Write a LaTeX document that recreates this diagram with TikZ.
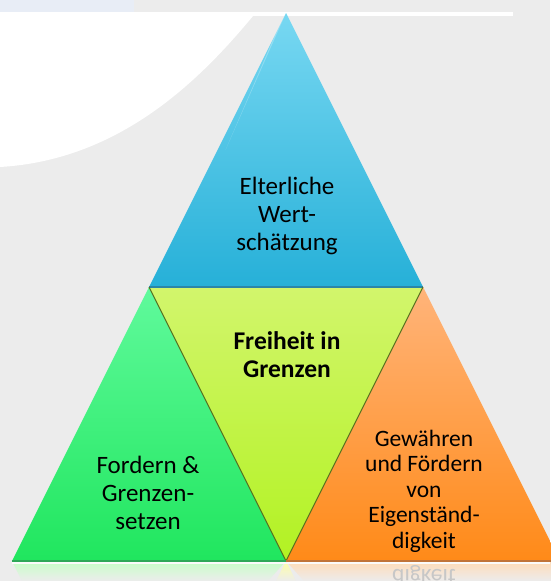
\documentclass[tikz,border=0pt]{standalone}
\usepackage{fontspec}
\setmainfont{Carlito}
\usetikzlibrary{calc}
\definecolor{bg}{HTML}{ECECEC}
\definecolor{stripblue}{HTML}{E8EDF6}
\definecolor{bluetop}{HTML}{78D8F2}
\definecolor{bluebot}{HTML}{26B0D8}
\definecolor{blueedge}{HTML}{2A86A8}
\definecolor{yeltop}{HTML}{D2F56C}
\definecolor{yelbot}{HTML}{B2F222}
\definecolor{yeledge}{HTML}{56701E}
\definecolor{grntop}{HTML}{60FA9C}
\definecolor{grnbot}{HTML}{20E65E}
\definecolor{grnedge}{HTML}{2EA858}
\definecolor{orgtop}{HTML}{FFB47A}
\definecolor{orgbot}{HTML}{FF8A18}
\definecolor{orgedge}{HTML}{C0743A}
\tikzset{
  lbl/.style={align=center, font=\fontsize{25}{28}\selectfont, text=black, inner sep=0pt},
  lblsmall/.style={align=center, font=\fontsize{23.5}{25.5}\selectfont, text=black, inner sep=0pt},
}
\begin{document}
\begin{tikzpicture}[x=1pt,y=-1pt]
\useasboundingbox (0,0) rectangle (550,581);
% background
\fill[bg] (0,0) rectangle (550,581);
\fill[stripblue] (0,0) rectangle (134,12);
\fill[white] (0,12) rectangle (513,16);
\fill[white] (0,16) -- (253,16) .. controls (200,80) and (120,160) .. (0,167) -- cycle;
% corner coordinates
\coordinate (A) at (286,13);
\coordinate (L) at (149,287);
\coordinate (R) at (423,287);
\coordinate (BL) at (12,561);
\coordinate (BM) at (286,561);
\coordinate (BR) at (560,561);
% reflection
\shade[top color=green!22!white, bottom color=bg] (BL) -- (BM) -- (268,581) -- (22,581) -- cycle;
\shade[top color=yellow!35!white, bottom color=bg] (BM) -- (276,581) -- (296,581) -- cycle;
\shade[top color=orange!28!white, bottom color=bg] (BM) -- (BR) -- (560,581) -- (304,581) -- cycle;
\fill[white!80!bg] (12,561) rectangle (550,564);
\node[lblsmall, text=black!22, yscale=-1] (refl) at (424,576) {digkeit};
% triangles
\shade[top color=bluetop, bottom color=bluebot] (A) -- (R) -- (L) -- cycle;
\shade[top color=yeltop, bottom color=yelbot] (L) -- (R) -- (BM) -- cycle;
\shade[top color=grntop, bottom color=grnbot] (L) -- (BM) -- (BL) -- cycle;
\shade[top color=orgtop, bottom color=orgbot] (R) -- (BR) -- (BM) -- cycle;
% highlights
\fill[white, opacity=0.25] (A) -- ($(A)!0.08!(L)$) -- ($(A)!0.5!(L)+(8,0)$) -- cycle;
% edges
\draw[blueedge, line width=2.2] (L) -- (R);
\draw[yeledge, line width=1] (L) -- (BM) -- (R);
\draw[grnedge, line width=2.5] (BL) -- (BM);
\draw[orgedge, line width=2.5] (BM) -- (BR);
% labels
\node[lbl] (top) at (287,216) {Elterliche\\Wert-\\schätzung};
\node[lbl, font=\fontsize{25.5}{28}\selectfont\bfseries] (mid) at (287,355) {Freiheit in\\Grenzen};
\node[lbl] (left) at (148,493) {Fordern \&\\Grenzen-\\setzen};
\node[lblsmall] (right) at (424,491) {Gewähren\\und Fördern\\von\\Eigenständ-\\digkeit};
\end{tikzpicture}
\end{document}
